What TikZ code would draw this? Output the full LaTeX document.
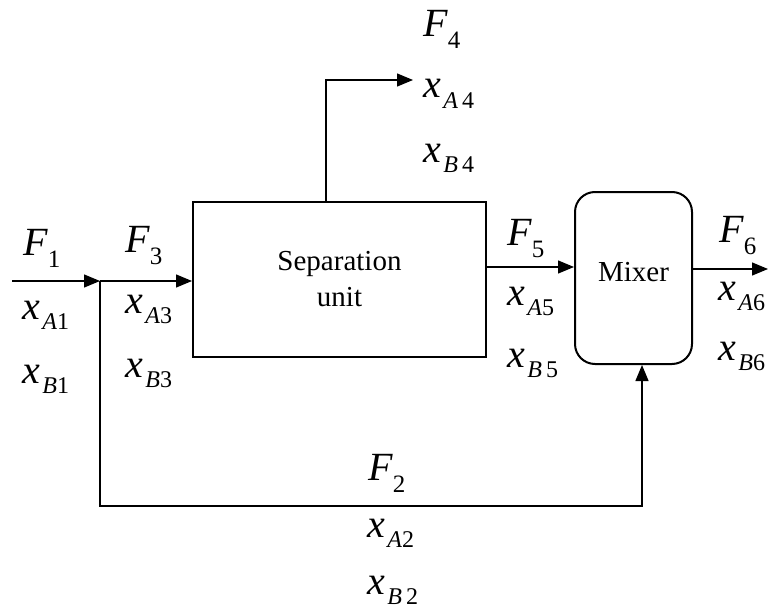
\documentclass[tikz,border=0pt]{standalone}
\usepackage{fontspec}
\setmainfont{Liberation Serif}
\usetikzlibrary{arrows.meta,calc}
\newcommand{\fsub}[1]{\textit{F}\raisebox{-12pt}{\fontsize{25}{25}\selectfont #1}}
\newcommand{\xsub}[2]{\textit{x}\hspace{2.5pt}\raisebox{-10pt}{\fontsize{24}{24}\selectfont\textit{#1}#2}}
\tikzset{
  unitbox/.style={rectangle,draw=black,line width=2pt,minimum width=293pt,minimum height=155pt,align=center,font=\fontsize{29}{36}\selectfont},
  mixbox/.style={rectangle,rounded corners=20pt,draw=black,line width=2pt,minimum width=117pt,minimum height=172pt,text depth=12pt,font=\fontsize{29}{36}\selectfont},
  stream/.style={-{Triangle[length=16pt,width=13pt]},line width=1.3pt},
  lbl/.style={anchor=base west,inner sep=0pt,font=\fontsize{40}{40}\selectfont}
}
\begin{document}
\begin{tikzpicture}[x=1pt,y=-1pt]
  \useasboundingbox (0,0) rectangle (769,610);
  \node[unitbox] (sep) at (339.5,279.5) {Separation\\unit};
  \node[mixbox] (mix) at (633.5,278) {Mixer};

  \coordinate (feed) at (12,281);
  \coordinate (split) at (100,281);
  \coordinate (top0) at (326,202);
  \coordinate (top1) at (413,80);
  \coordinate (out5) at (486,267);
  \coordinate (out6) at (768,269);
  \coordinate (byp0) at (100,506);
  \coordinate (byp1) at (642,506);

  \draw[stream] (feed) -- (split);
  \draw[stream] (split) -- (sep.west |- split);
  \draw[stream] (top0) |- (top1);
  \draw[stream] (out5) -- (out5 -| mix.west);
  \draw[stream] (mix.east |- out6) -- (out6);
  \draw[stream] (split) -- (byp0) -- (byp1) -- (byp1 |- mix.south);

  % stream labels
  \node[lbl] (f1) at (23,255) {\fsub{1}};
  \node[lbl] (xa1) at (22,319) {\xsub{A}{1}};
  \node[lbl] (xb1) at (22,383) {\xsub{B}{1}};
  \node[lbl] (f3) at (125,252) {\fsub{3}};
  \node[lbl] (xa3) at (125,313) {\xsub{A}{3}};
  \node[lbl] (xb3) at (125,377) {\xsub{B}{3}};
  \node[lbl] (f4) at (423,37) {\fsub{4}};
  \node[lbl] (xa4) at (423,98) {\xsub{A}{\,4}};
  \node[lbl] (xb4) at (423,162) {\xsub{B}{\,4}};
  \node[lbl] (f5) at (507,245) {\fsub{5}};
  \node[lbl] (xa5) at (507,305) {\xsub{A}{5}};
  \node[lbl] (xb5) at (507,367) {\xsub{B}{\,5}};
  \node[lbl] (f6) at (719,242) {\fsub{6}};
  \node[lbl] (xa6) at (718,300) {\xsub{A}{6}};
  \node[lbl] (xb6) at (718,360) {\xsub{B}{6}};
  \node[lbl] (f2) at (368,480) {\fsub{2}};
  \node[lbl] (xa2) at (367,537) {\xsub{A}{2}};
  \node[lbl] (xb2) at (367,594) {\xsub{B}{\,2}};
\end{tikzpicture}
\end{document}
